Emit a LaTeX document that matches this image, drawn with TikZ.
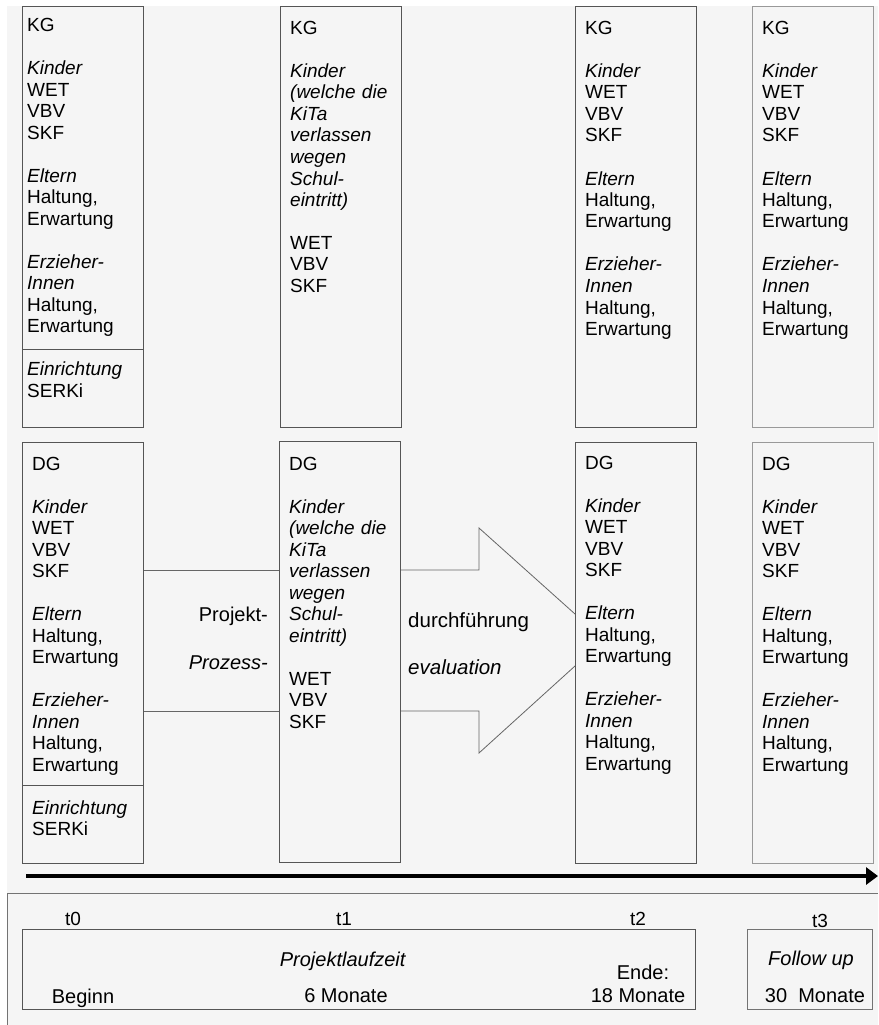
\documentclass[tikz,border=0pt]{standalone}
\usepackage{fontspec}
\setmainfont{Liberation Sans}
\usetikzlibrary{arrows.meta}
\definecolor{bggray}{RGB}{245,245,245}
\definecolor{framegray}{RGB}{85,85,85}
\newcommand{\skipline}{\\[21.5pt]}

\begin{document}
\begin{tikzpicture}[x=1pt,y=-1pt,
  box/.style={draw=framegray, line width=1pt, fill=bggray, minimum width=121pt,
    minimum height=421pt, inner sep=0pt, anchor=north west},
  txt/.style={anchor=base west, inner sep=0pt, text width=115pt, align=left,
    text=black, font=\fontsize{19}{21.5}\selectfont},
  lbl/.style={inner sep=0pt, text=black, font=\fontsize{20}{24}\selectfont}]
\useasboundingbox (0,0) rectangle (878,1025);
\fill[bggray] (7,6) rectangle (878,1025);

%% columns
\node[box] (kg1) at (22,6) {};
\node[box] (kg2) at (280,6) {};
\node[box] (kg3) at (575,6) {};
\node[box, draw=black!40] (kg4) at (752,6) {};
\node[box] (dg1) at (22,442) {};
\node[box] (dg2) at (279,441) {};
\node[box] (dg3) at (575,442) {};
\node[box, draw=black!40] (dg4) at (752,442) {};
\draw[framegray, line width=1pt] (kg1.west |- 0,349) -- (kg1.east |- 0,349);
\draw[framegray, line width=1pt] (dg1.west |- 0,785) -- (dg1.east |- 0,785);

%% KG
\node[txt] (kg1t) at ([shift={(5,26)}]kg1.north west) {KG\skipline
  \textit{Kinder}\\ WET\\ VBV\\ SKF\skipline
  \textit{Eltern}\\ Haltung,\\ Erwartung\skipline
  \textit{Erzieher-}\\ \textit{Innen}\\ Haltung,\\ Erwartung\skipline
  \textit{Einrichtung}\\ SERKi};
\node[txt] (kg2t) at ([shift={(10,28.5)}]kg2.north west) {KG\skipline
  \textit{Kinder}\\ \textit{(welche die}\\ \textit{KiTa}\\ \textit{verlassen}\\
  \textit{wegen}\\ \textit{Schul-}\\ \textit{eintritt)}\skipline
  WET\\ VBV\\ SKF};
\node[txt] (kg3t) at ([shift={(10,28.5)}]kg3.north west) {KG\skipline
  \textit{Kinder}\\ WET\\ VBV\\ SKF\skipline
  \textit{Eltern}\\ Haltung,\\ Erwartung\skipline
  \textit{Erzieher-}\\ \textit{Innen}\\ Haltung,\\ Erwartung};
\node[txt] (kg4t) at ([shift={(10,28.5)}]kg4.north west) {KG\skipline
  \textit{Kinder}\\ WET\\ VBV\\ SKF\skipline
  \textit{Eltern}\\ Haltung,\\ Erwartung\skipline
  \textit{Erzieher-}\\ \textit{Innen}\\ Haltung,\\ Erwartung};

%% DG
\node[txt] (dg1t) at ([shift={(10,28)}]dg1.north west) {DG\skipline
  \textit{Kinder}\\ WET\\ VBV\\ SKF\skipline
  \textit{Eltern}\\ Haltung,\\ Erwartung\skipline
  \textit{Erzieher-}\\ \textit{Innen}\\ Haltung,\\ Erwartung\skipline
  \textit{Einrichtung}\\ SERKi};
\node[txt] (dg2t) at ([shift={(10,29)}]dg2.north west) {DG\skipline
  \textit{Kinder}\\ \textit{(welche die}\\ \textit{KiTa}\\ \textit{verlassen}\\
  \textit{wegen}\\ \textit{Schul-}\\ \textit{eintritt)}\skipline
  WET\\ VBV\\ SKF};
\node[txt] (dg3t) at ([shift={(10,27)}]dg3.north west) {DG\skipline
  \textit{Kinder}\\ WET\\ VBV\\ SKF\skipline
  \textit{Eltern}\\ Haltung,\\ Erwartung\skipline
  \textit{Erzieher-}\\ \textit{Innen}\\ Haltung,\\ Erwartung};
\node[txt] (dg4t) at ([shift={(10,28)}]dg4.north west) {DG\skipline
  \textit{Kinder}\\ WET\\ VBV\\ SKF\skipline
  \textit{Eltern}\\ Haltung,\\ Erwartung\skipline
  \textit{Erzieher-}\\ \textit{Innen}\\ Haltung,\\ Erwartung};

%% block arrow
\coordinate (shafttop) at (0,570);
\coordinate (shaftbot) at (0,711);
\coordinate (headtop) at (479,528);
\coordinate (headbot) at (479,753);
\draw[black!60, line width=0.8pt] (dg1.east |- shafttop) -- (dg2.west |- shafttop);
\draw[black!60, line width=0.8pt] (dg1.east |- shaftbot) -- (dg2.west |- shaftbot);
\draw[black!60, line width=0.8pt] (dg2.east |- shafttop) -- (headtop |- shafttop)
  -- (headtop) -- (dg3.west |- 0,614);
\draw[black!60, line width=0.8pt] (dg2.east |- shaftbot) -- (headbot |- shaftbot)
  -- (headbot) -- (dg3.west |- 0,666);
\node[lbl, anchor=base east] (projekt) at (268,621) {Projekt-};
\node[lbl, anchor=base east] (prozess) at (268,669) {\textit{Prozess-}};
\node[lbl, anchor=base west, font=\fontsize{20.5}{24}\selectfont] (durch) at (408,627) {durchführung};
\node[lbl, anchor=base west, font=\fontsize{20.5}{24}\selectfont] (eval) at (408,674) {\textit{evaluation}};

%% time line
\coordinate (tstart) at (26,876);
\coordinate (tend) at (878,876);
\draw[black, line width=4pt, -{Triangle[length=12pt,width=17pt]}] (tstart) -- (tend);
\draw[black!55, line width=1pt] (7,1025) -- (7,893) -- (878,893);

%% bottom panel
\node[draw=framegray, line width=1pt, minimum width=673pt, minimum height=80pt,
  inner sep=0pt, anchor=north west] (laufzeit) at (22,929) {};
\node[draw=black!55, line width=1pt, minimum width=125pt, minimum height=80pt,
  inner sep=0pt, anchor=north west] (follow) at (747,929) {};
\node[lbl, anchor=base, font=\fontsize{19}{22}\selectfont] (t0) at (73,925) {t0};
\node[lbl, anchor=base, font=\fontsize{19}{22}\selectfont] (t1) at (344,925) {t1};
\node[lbl, anchor=base, font=\fontsize{19}{22}\selectfont] (t2) at (638,925) {t2};
\node[lbl, anchor=base, font=\fontsize{19}{22}\selectfont] (t3) at (820,927) {t3};
\node[lbl, anchor=base] (plz) at (343,966) {\textit{Projektlaufzeit}};
\node[lbl, anchor=base] (beginn) at (83,1003) {Beginn};
\node[lbl, anchor=base] (sechs) at (346,1002) {6 Monate};
\node[lbl, anchor=base] (ende) at (643,979) {Ende:};
\node[lbl, anchor=base] (achtzehn) at (638,1002) {18 Monate};
\node[lbl, anchor=base] (fup) at (811,965) {\textit{Follow up}};
\node[lbl, anchor=base] (dreissig) at (815,1002) {30\ \ Monate};
\end{tikzpicture}
\end{document}
